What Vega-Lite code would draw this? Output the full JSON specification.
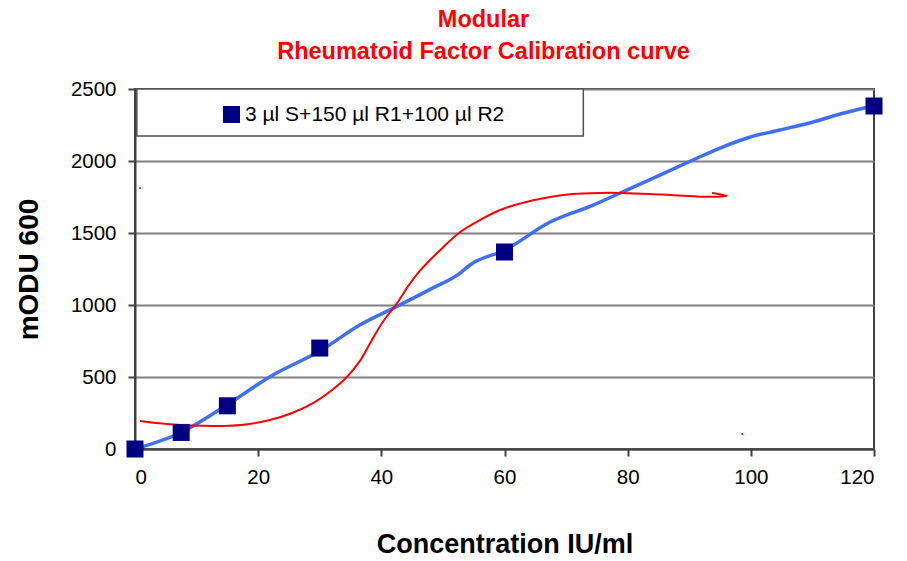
{
  "$schema": "https://vega.github.io/schema/vega-lite/v6.json",
  "width": 739,
  "height": 360,
  "autosize": {"type": "none"},
  "padding": {"left": 135, "top": 89, "right": 33, "bottom": 112},
  "background": "white",
  "config": {
    "view": {"stroke": "#404040", "strokeWidth": 2},
    "font": "Liberation Sans"
  },
  "title": {
    "text": ["Modular", "Rheumatoid Factor Calibration curve"],
    "font": "Liberation Sans",
    "fontSize": 23.5,
    "fontWeight": "bold",
    "color": "#FF0000",
    "anchor": "middle",
    "frame": "group",
    "dx": -21,
    "lineHeight": 32,
    "offset": 16
  },
  "datasets": {
    "box": [{"x1": 0.3, "x2": 72.8, "y1": 2174, "y2": 2500}],
    "blue": [
      {"x": 0, "y": 0}, {"x": 7.3, "y": 111}, {"x": 14.9, "y": 306}, {"x": 22.4, "y": 514},
      {"x": 30, "y": 680}, {"x": 36.5, "y": 861}, {"x": 43, "y": 1000}, {"x": 48, "y": 1110},
      {"x": 52.8, "y": 1222}, {"x": 54.4, "y": 1278}, {"x": 60.1, "y": 1382}, {"x": 67.4, "y": 1576},
      {"x": 74.4, "y": 1694}, {"x": 80.9, "y": 1819}, {"x": 86.4, "y": 1924}, {"x": 90.5, "y": 2005},
      {"x": 95, "y": 2090}, {"x": 99.8, "y": 2165}, {"x": 104.7, "y": 2215}, {"x": 110.1, "y": 2271},
      {"x": 114.5, "y": 2326}, {"x": 119.8, "y": 2382}
    ],
    "red": [
      {"o": 1, "x": 0.8, "y": 194}, {"o": 2, "x": 4, "y": 178}, {"o": 3, "x": 7.3, "y": 167},
      {"o": 4, "x": 11, "y": 161}, {"o": 5, "x": 14.3, "y": 160}, {"o": 6, "x": 18, "y": 170},
      {"o": 7, "x": 21.9, "y": 201}, {"o": 8, "x": 25.5, "y": 250}, {"o": 9, "x": 28.9, "y": 319},
      {"o": 10, "x": 32, "y": 410}, {"o": 11, "x": 34.4, "y": 500}, {"o": 12, "x": 36.5, "y": 610},
      {"o": 13, "x": 38.2, "y": 736}, {"o": 14, "x": 40.2, "y": 880}, {"o": 15, "x": 42.5, "y": 1010},
      {"o": 16, "x": 44.5, "y": 1140}, {"o": 17, "x": 46.2, "y": 1235}, {"o": 18, "x": 47.9, "y": 1312},
      {"o": 19, "x": 50, "y": 1400}, {"o": 20, "x": 52.8, "y": 1507}, {"o": 21, "x": 56, "y": 1590},
      {"o": 22, "x": 59.3, "y": 1660}, {"o": 23, "x": 63, "y": 1710}, {"o": 24, "x": 67.4, "y": 1750},
      {"o": 25, "x": 71, "y": 1770}, {"o": 26, "x": 75.5, "y": 1778}, {"o": 27, "x": 79, "y": 1778},
      {"o": 28, "x": 83.6, "y": 1771}, {"o": 29, "x": 87.5, "y": 1762}, {"o": 30, "x": 91.7, "y": 1752},
      {"o": 31, "x": 94, "y": 1752}, {"o": 32, "x": 96.1, "y": 1757}, {"o": 33, "x": 93.7, "y": 1778}
    ],
    "pts": [
      {"x": 0, "y": 0, "s": "3 µl S+150 µl R1+100 µl R2"},
      {"x": 7.5, "y": 115, "s": "3 µl S+150 µl R1+100 µl R2"},
      {"x": 15, "y": 300, "s": "3 µl S+150 µl R1+100 µl R2"},
      {"x": 30, "y": 701, "s": "3 µl S+150 µl R1+100 µl R2"},
      {"x": 60, "y": 1368, "s": "3 µl S+150 µl R1+100 µl R2"},
      {"x": 120, "y": 2382, "s": "3 µl S+150 µl R1+100 µl R2"}
    ],
    "dots": [{"x": 0.8, "y": 1812}, {"x": 98.6, "y": 104}]
  },
  "encoding": {
    "x": {
      "field": "x", "type": "quantitative",
      "scale": {"domain": [0, 120], "nice": false, "zero": false},
      "axis": {
        "values": [0, 20, 40, 60, 80, 100, 120],
        "format": "d",
        "grid": false,
        "title": "Concentration IU/ml",
        "titleFont": "Liberation Sans", "titleFontSize": 27, "titleFontWeight": "bold", "titleColor": "#000",
        "titlePadding": 44,
        "labelFont": "Liberation Sans", "labelFontSize": 20.5, "labelColor": "#000",
        "labelPadding": 11,
        "domainColor": "#404040", "domainWidth": 2,
        "tickColor": "#404040", "tickWidth": 2, "tickSize": 7
      }
    },
    "y": {
      "field": "y", "type": "quantitative",
      "scale": {"domain": [0, 2500], "nice": false},
      "axis": {
        "values": [0, 500, 1000, 1500, 2000, 2500],
        "format": "d",
        "grid": true, "gridColor": "#808080", "gridWidth": 2,
        "title": "mODU 600",
        "titleFont": "Liberation Sans", "titleFontSize": 28, "titleFontWeight": "bold", "titleColor": "#000",
        "titlePadding": 27,
        "labelFont": "Liberation Sans", "labelFontSize": 20.5, "labelColor": "#000",
        "labelPadding": 12,
        "domainColor": "#404040", "domainWidth": 2,
        "tickColor": "#404040", "tickWidth": 2, "tickSize": 7
      }
    }
  },
  "layer": [
    {
      "data": {"name": "box"},
      "mark": {"type": "rect", "fill": "white", "stroke": "#505050", "strokeWidth": 1.5},
      "encoding": {
        "x": {"field": "x1", "type": "quantitative"},
        "x2": {"field": "x2"},
        "y": {"field": "y1", "type": "quantitative"},
        "y2": {"field": "y2"}
      }
    },
    {
      "data": {"name": "blue"},
      "mark": {"type": "line", "color": "#4070F0", "strokeWidth": 3.5, "interpolate": "monotone"},
      "encoding": {}
    },
    {
      "data": {"name": "red"},
      "mark": {"type": "line", "color": "#FF0000", "strokeWidth": 2, "interpolate": "catmull-rom"},
      "encoding": {"order": {"field": "o", "type": "quantitative"}}
    },
    {
      "data": {"name": "dots"},
      "mark": {"type": "point", "shape": "square", "filled": true, "color": "#FF0000", "size": 3, "opacity": 1},
      "encoding": {}
    },
    {
      "data": {"name": "pts"},
      "mark": {"type": "point", "shape": "square", "filled": true, "size": 289, "opacity": 1},
      "encoding": {
        "color": {
          "field": "s", "type": "nominal",
          "scale": {"range": ["#000080"]},
          "legend": {
            "title": null,
            "orient": "none",
            "legendX": 86,
            "legendY": 15,
            "padding": 0,
            "symbolType": "square",
            "symbolSize": 289,
            "symbolOpacity": 1,
            "symbolStrokeWidth": 0,
            "labelFont": "Liberation Sans",
            "labelFontSize": 21,
            "labelColor": "#000",
            "labelOffset": 3,
            "labelLimit": 500
          }
        }
      }
    }
  ]
}
